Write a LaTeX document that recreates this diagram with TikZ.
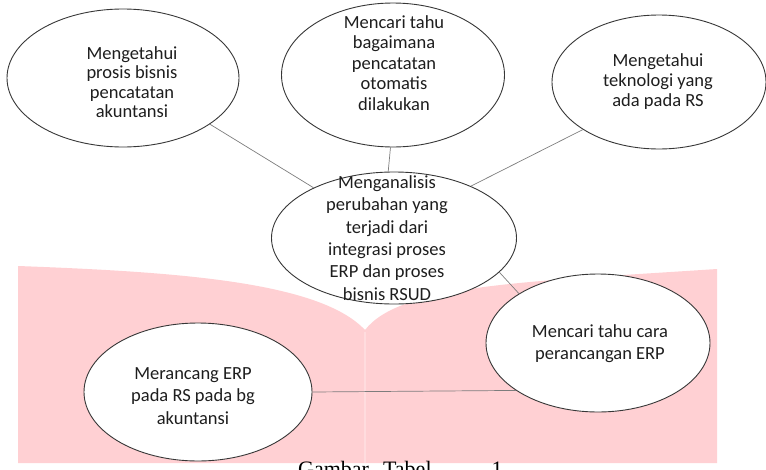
\documentclass[tikz,border=0pt]{standalone}
\usepackage{fontspec}
\setmainfont{Carlito}
\newfontfamily\capfont{Liberation Serif}
\usetikzlibrary{shapes.geometric}
\definecolor{pinkbg}{RGB}{255,208,211}
\definecolor{spinecol}{RGB}{255,220,222}
\definecolor{outl}{RGB}{55,55,55}
\definecolor{conn}{RGB}{125,125,125}
\definecolor{txt}{RGB}{30,30,30}
\begin{document}
\begin{tikzpicture}[x=1pt,y=-1pt,
  bub/.style={ellipse, draw=outl, line width=0.9pt, fill=white, inner sep=0pt},
  lbl/.style={align=center, text=txt, inner sep=0pt},
  link/.style={draw=conn, line width=0.7pt}]
\useasboundingbox (0,0) rectangle (766,469);
% pink open-book background
\fill[pinkbg] (18,266) .. controls (180,272) and (320,282) .. (365,330)
  .. controls (400,285) and (520,282) .. (717,269) -- (717,463) -- (18,463) -- cycle;
\draw[spinecol, line width=2.5pt] (365,332) -- (365,463);
% ellipses
\node[bub, minimum width=232pt, minimum height=138pt] (e1) at (123,78) {};
\node[bub, minimum width=223pt, minimum height=144pt] (e2) at (393,75) {};
\node[bub, minimum width=214pt, minimum height=134pt] (e3) at (659,82) {};
\node[bub, minimum width=245pt, minimum height=132pt] (e4) at (394,238) {};
\node[bub, minimum width=224pt, minimum height=138pt] (e5) at (598,343) {};
\node[bub, minimum width=228pt, minimum height=138pt] (e6) at (198,392) {};
% connectors
\draw[link] (e1.-28) -- (e4.148);
\draw[link] (e2.-92) -- (e4.95);
\draw[link] (e3.212) -- (e4.34);
\draw[link] (e4.-18) -- (e5.148);
\draw[link] (e6.0) -- (e5.210);
% texts
\node[lbl, font=\fontsize{18.5}{19.5}\selectfont] (t1) at (132,82) {Mengetahui\\prosis bisnis\\pencatatan\\akuntansi};
\node[lbl, font=\fontsize{18.5}{20.5}\selectfont] (t2) at (394,63) {Mencari tahu\\bagaimana\\pencatatan\\otomatis\\dilakukan};
\node[lbl, font=\fontsize{18.5}{20}\selectfont] (t3) at (658,82) {Mengetahui\\teknologi yang\\ada pada RS};
\node[lbl, font=\fontsize{18.5}{22.3}\selectfont] (t4) at (387,238) {Menganalisis\\perubahan yang\\terjadi dari\\integrasi proses\\ERP dan proses\\bisnis RSUD};
\node[lbl, font=\fontsize{18.5}{22}\selectfont] (t5) at (600,344) {Mencari tahu cara\\perancangan ERP};
\node[lbl, font=\fontsize{18.5}{22.5}\selectfont] (t6) at (193,396) {Merancang ERP\\pada RS pada bg\\akuntansi};
% caption (cut off at the bottom edge, as in the reference)
\node[anchor=base west, inner sep=0pt, text=black, font=\capfont\fontsize{22}{24}\selectfont] (cap) at (298,476) {Gambar\hspace{14pt}Tabel\hspace{60pt}1};
\end{tikzpicture}
\end{document}
